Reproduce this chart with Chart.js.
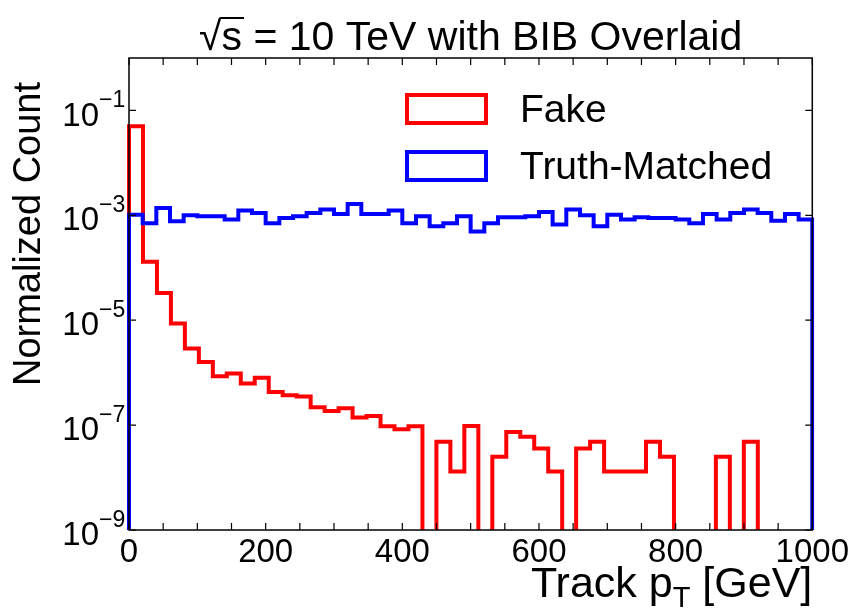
<!DOCTYPE html>
<html>
<head>
<meta charset="utf-8">
<style>
html,body{margin:0;padding:0;background:#ffffff;}
#wrap{width:852px;height:613px;}
</style>
<script src="https://cdn.jsdelivr.net/npm/chart.js@4/dist/chart.umd.min.js"></script>
</head>
<body>
<div id="wrap"><canvas id="c" width="852" height="613"></canvas></div>
<script>
// ---- data ----
const fakeBinWidth = 20.45;   // GeV per bin, fake-track histogram
const truthBinWidth = 20;     // GeV per bin, truth-matched histogram
const fakeValues = [
  5.0e-2, 1.3e-4, 3.3e-5, 8.7e-6, 2.9e-6, 1.6e-6, 8.5e-7, 9.6e-7, 6.2e-7, 8.0e-7,
  4.3e-7, 3.7e-7, 3.5e-7, 2.2e-7, 1.85e-7, 2.1e-7, 1.4e-7, 1.5e-7, 9.5e-8, 8.3e-8,
  9.5e-8, 0, 4.8e-8, 1.3e-8, 9.6e-8, 0, 2.5e-8, 7.4e-8, 6.0e-8, 3.6e-8,
  1.3e-8, 0, 3.6e-8, 4.8e-8, 1.3e-8, 1.3e-8, 1.3e-8, 4.8e-8, 2.5e-8, 0,
  0, 0, 2.5e-8, 0, 4.8e-8, 0, 0, 0, 0, 0
];
const truthValues = [
  1.03e-3, 7.1e-4, 1.38e-3, 7.7e-4, 1.0e-3, 9.6e-4, 9.6e-4, 8.3e-4, 1.23e-3, 1.11e-3,
  7.1e-4, 8.9e-4, 9.6e-4, 1.11e-3, 1.29e-3, 1.06e-3, 1.64e-3, 1.06e-3, 1.06e-3, 1.23e-3,
  7.1e-4, 9.6e-4, 6.2e-4, 7.1e-4, 9.6e-4, 4.9e-4, 7.1e-4, 9.2e-4, 9.2e-4, 9.6e-4,
  1.16e-3, 6.7e-4, 1.29e-3, 1.0e-3, 6.2e-4, 1.03e-3, 8.3e-4, 9.2e-4, 8.9e-4, 8.9e-4,
  8.3e-4, 7.1e-4, 1.06e-3, 8.3e-4, 1.11e-3, 1.29e-3, 1.11e-3, 7.9e-4, 1.06e-3, 8.3e-4
];
const seriesNames = ['Fake', 'Truth-Matched'];
const xTickValues = [0, 200, 400, 600, 800, 1000];
const xMinorTickValues = [0,50,100,150,200,250,300,350,400,450,500,550,600,650,700,750,800,850,900,950,1000];
const yTickExponents = [-9, -7, -5, -3, -1];
const titleParts = ['\u221A', 's', ' = 10 TeV with BIB Overlaid'];
const yAxisTitle = 'Normalized Count';
const xAxisTitleParts = ['Track p', 'T', ' [GeV]'];

const FONT = "'Liberation Sans', Arial, Helvetica, sans-serif";
const FLOOR = 1e-14; // empty bins drop below the axis (log scale)

function histPoints(values, width) {
  const pts = [{x: 0, y: FLOOR}];
  values.forEach((v, i) => pts.push({x: i * width, y: v > 0 ? v : FLOOR}));
  const last = values[values.length - 1];
  pts.push({x: values.length * width, y: last > 0 ? last : FLOOR});
  pts.push({x: values.length * width, y: FLOOR});
  return pts;
}

const decorPlugin = {
  id: 'decor',
  afterDatasetsDraw(chart) {
    const ctx = chart.ctx;
    const a = chart.chartArea;
    const xs = chart.scales.x, ys = chart.scales.y;
    ctx.save();
    ctx.strokeStyle = '#000';
    ctx.lineWidth = 1.5;
    ctx.strokeRect(a.left, a.top, a.right - a.left, a.bottom - a.top);
    ctx.lineWidth = 1.2;
    const tl = 7;
    ctx.beginPath();
    xMinorTickValues.forEach(v => {
      const px = xs.getPixelForValue(v);
      ctx.moveTo(px, a.bottom); ctx.lineTo(px, a.bottom - tl);
      ctx.moveTo(px, a.top); ctx.lineTo(px, a.top + tl);
    });
    yTickExponents.forEach(e => {
      const py = ys.getPixelForValue(Math.pow(10, e));
      ctx.moveTo(a.left, py); ctx.lineTo(a.left + tl, py);
      ctx.moveTo(a.right, py); ctx.lineTo(a.right - tl, py);
    });
    ctx.stroke();
    ctx.restore();
  },
  afterDraw(chart) {
    const ctx = chart.ctx;
    const a = chart.chartArea;
    const ys = chart.scales.y;
    ctx.save();
    ctx.fillStyle = '#000';
    ctx.strokeStyle = '#000';
    ctx.textAlign = 'left';
    ctx.textBaseline = 'alphabetic';

    // title (with overline over s under the radical)
    const tf = '41px ' + FONT;
    ctx.font = tf;
    const tw = titleParts.map(s => ctx.measureText(s).width);
    const total = tw.reduce((p, c) => p + c, 0);
    const tx = (a.left + a.right) / 2 - total / 2;
    const tb = 50;
    const rootAsc = ctx.measureText(titleParts[0]).actualBoundingBoxAscent || 33;
    ctx.fillText(titleParts[0], tx, tb);
    ctx.fillText(titleParts[1], tx + tw[0], tb);
    ctx.fillText(titleParts[2], tx + tw[0] + tw[1], tb);
    ctx.lineWidth = 2;
    ctx.beginPath();
    const oy = tb - rootAsc + 1;
    ctx.moveTo(tx + tw[0] - 1.5, oy);
    ctx.lineTo(tx + tw[0] + tw[1] + 2, oy);
    ctx.stroke();

    // y tick exponents
    ctx.font = '23px ' + FONT;
    yTickExponents.forEach(e => {
      const py = ys.getPixelForValue(Math.pow(10, e));
      ctx.fillText('\u2212' + Math.abs(e), 99, py - 3);
    });

    // y axis title
    ctx.font = '38px ' + FONT;
    ctx.save();
    ctx.translate(30, 234);
    ctx.rotate(-Math.PI / 2);
    ctx.textAlign = 'center';
    ctx.textBaseline = 'middle';
    ctx.fillText(yAxisTitle, 0, 0);
    ctx.restore();

    // x axis title with subscript
    const big = '43px ' + FONT, small = '29px ' + FONT;
    ctx.font = big;
    const w1 = ctx.measureText(xAxisTitleParts[0]).width, w3 = ctx.measureText(xAxisTitleParts[2]).width;
    ctx.font = small;
    const w2 = ctx.measureText(xAxisTitleParts[1]).width;
    const x0 = a.right - (w1 + w2 + w3);
    const base = 597;
    ctx.font = big; ctx.fillText(xAxisTitleParts[0], x0, base);
    ctx.font = small; ctx.fillText(xAxisTitleParts[1], x0 + w1, base + 10);
    ctx.font = big; ctx.fillText(xAxisTitleParts[2], x0 + w1 + w2, base);

    // legend
    ctx.lineWidth = 4;
    chart.data.datasets.forEach((ds, i) => {
      const by = 95 + i * 57;
      ctx.strokeStyle = ds.borderColor;
      ctx.strokeRect(407, by, 79, 28);
      ctx.font = '39px ' + FONT;
      ctx.textBaseline = 'middle';
      ctx.fillStyle = '#000';
      ctx.fillText(ds.label, 520, by + 16);
    });
    ctx.restore();
  }
};

new Chart(document.getElementById('c'), {
  type: 'line',
  data: {
    datasets: [
      {
        label: seriesNames[0],
        data: histPoints(fakeValues, fakeBinWidth),
        borderColor: '#ff0000',
        backgroundColor: 'rgba(0,0,0,0)',
        borderWidth: 4,
        stepped: 'before',
        pointRadius: 0,
        fill: false,
        order: 1,
        clip: {left: 2, right: 2, top: 0, bottom: 0}
      },
      {
        label: seriesNames[1],
        data: histPoints(truthValues, truthBinWidth),
        borderColor: '#0000ff',
        backgroundColor: 'rgba(0,0,0,0)',
        borderWidth: 4,
        stepped: 'before',
        pointRadius: 0,
        fill: false,
        order: 0,
        clip: {left: 2, right: 2, top: 0, bottom: 0}
      }
    ]
  },
  options: {
    responsive: false,
    animation: false,
    devicePixelRatio: 1,
    layout: {padding: {left: 0, right: 39, top: 58, bottom: 0}},
    plugins: {
      legend: {display: false},
      tooltip: {enabled: false},
      title: {display: false}
    },
    scales: {
      x: {
        type: 'linear',
        min: 0, max: 1000,
        grid: {display: false, drawTicks: false},
        border: {display: false},
        afterBuildTicks: s => { s.ticks = xTickValues.map(v => ({value: v})); },
        afterFit: s => { s.height = 83; },
        ticks: {
          color: '#000',
          font: {family: FONT, size: 33},
          padding: 3,
          maxRotation: 0,
          autoSkip: false,
          callback: v => String(v)
        }
      },
      y: {
        type: 'logarithmic',
        min: 1e-9, max: 1,
        grid: {display: false, drawTicks: false},
        border: {display: false},
        afterBuildTicks: s => { s.ticks = yTickExponents.map(e => ({value: Math.pow(10, e)})); },
        afterFit: s => { s.width = 129; },
        ticks: {
          color: '#000',
          font: {family: FONT, size: 33},
          padding: 30,
          labelOffset: 6,
          autoSkip: false,
          callback: () => '10'
        }
      }
    }
  },
  plugins: [decorPlugin]
});
</script>
</body>
</html>
